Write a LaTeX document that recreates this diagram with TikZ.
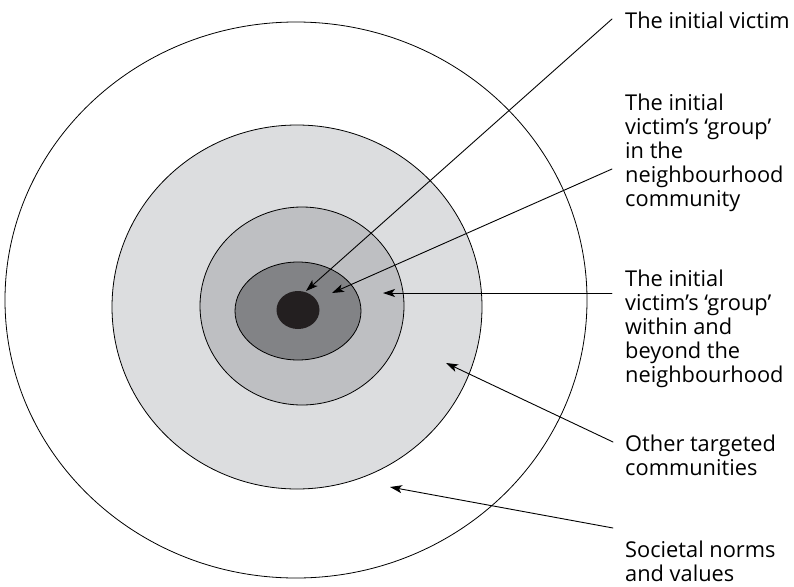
\documentclass[tikz,border=0pt]{standalone}
\usepackage{fontspec}
\setmainfont{Open Sans}
\usetikzlibrary{arrows.meta}
\definecolor{ringOuter}{HTML}{DCDDDF}
\definecolor{ringMid}{HTML}{BEBFC2}
\definecolor{ringInner}{HTML}{828386}
\definecolor{core}{HTML}{231F20}
\begin{document}
\begin{tikzpicture}[x=1pt,y=-1pt,line cap=round,line join=round,
  >={Stealth[length=12pt,width=8pt,inset=3pt]},
  ring/.style={draw=black,line width=0.8pt},
  lbl/.style={anchor=west,align=left,inner sep=0pt,font=\fontsize{21.8}{24}\selectfont},
  ptr/.style={line width=0.9pt,->}]
  \useasboundingbox (0,0) rectangle (794,586);
  % rings
  \draw[ring,fill=white] (296,300) ellipse [x radius=291,y radius=278];
  \draw[ring,fill=ringOuter] (297,307) ellipse [x radius=185,y radius=182];
  \draw[ring,fill=ringMid] (302,306) ellipse [x radius=102,y radius=99];
  \draw[ring,fill=ringInner] (298,311) ellipse [x radius=63,y radius=49];
  \fill[core] (298,310) ellipse [x radius=21.5,y radius=19];
  % labels
  \node[lbl] (victim) at (625,20) {The initial victim};
  \node[lbl] (groupLocal) at (625,153) {The initial\\victim’s ‘group’\\in the\\neighbourhood\\community};
  \node[lbl] (groupWide) at (625,329) {The initial\\victim’s ‘group’\\within and\\beyond the\\neighbourhood};
  \node[lbl] (others) at (625,455) {Other targeted\\communities};
  \node[lbl] (norms) at (625,561) {Societal norms\\and values};
  % pointer ends
  \coordinate (victimS) at (612,19);
  \coordinate (victimE) at (306,291);
  \coordinate (groupLocalS) at (612,169);
  \coordinate (groupLocalE) at (332,293);
  \coordinate (groupWideS) at (612,293);
  \coordinate (groupWideE) at (383,293);
  \coordinate (othersS) at (613,442);
  \coordinate (othersE) at (446,363);
  \coordinate (normsS) at (613,528);
  \coordinate (normsE) at (390,487);
  % pointers
  \draw[ptr] (victimS) -- (victimE);
  \draw[ptr] (groupLocalS) -- (groupLocalE);
  \draw[ptr] (groupWideS) -- (groupWideE);
  \draw[ptr] (othersS) -- (othersE);
  \draw[ptr] (normsS) -- (normsE);
\end{tikzpicture}
\end{document}
